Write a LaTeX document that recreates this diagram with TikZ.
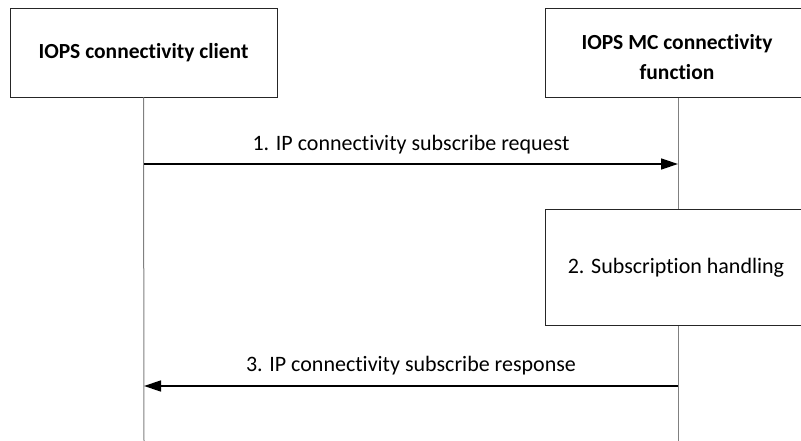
\documentclass[tikz,border=0pt]{standalone}
\usepackage{fontspec}
\setmainfont{Carlito}[Ligatures={NoCommon}]
\usetikzlibrary{arrows.meta}
\begin{document}
\begin{tikzpicture}[x=1pt,y=-1pt,
  entity/.style={draw=black!85,line width=0.9pt,fill=white,inner sep=0pt,font=\fontsize{21.5}{30}\selectfont\bfseries,align=center},
  procbox/.style={draw=black!85,line width=0.9pt,fill=white,inner sep=0pt},
  lifeline/.style={draw=black!50,line width=1pt},
  msg/.style={draw=black,line width=1.4pt,-{Triangle[length=17pt,width=11pt]}},
  lbl/.style={font=\fontsize{22}{26}\selectfont,inner sep=0pt}]
\useasboundingbox (0,0) rectangle (801,441);
% lifelines
\coordinate (cbot) at (144,441);
\coordinate (sbot) at (678,441);
\node[entity,minimum width=267pt,minimum height=89pt] (client) at (143.5,52.5) {IOPS connectivity client};
\node[entity,minimum width=262pt,minimum height=89pt,anchor=north west] (server) at (544.5,8) {};
\node[font=\fontsize{21.5}{30}\selectfont\bfseries,align=center] (stitle) at (677,57) {IOPS MC connectivity\\function};
\node[procbox,minimum width=262pt,minimum height=116pt,anchor=north west] (proc) at (544.5,209) {};
\node[lbl] (ptext) at (676,268) {2. Subscription handling};
\draw[lifeline] (client.south) -- (cbot);
\draw[lifeline] (server.south -| sbot) -- (proc.north -| sbot);
\draw[lifeline] (proc.south -| sbot) -- (sbot);
% messages
\coordinate (m1s) at (144,164);
\coordinate (m1e) at (678,164);
\draw[msg] (m1s) -- (m1e);
\node[lbl] (l1) at (411,145) {1. IP connectivity subscribe request};
\coordinate (m3s) at (678,386);
\coordinate (m3e) at (144,386);
\draw[msg] (m3s) -- (m3e);
\node[lbl] (l3) at (411,366) {3. IP connectivity subscribe response};
\end{tikzpicture}
\end{document}
